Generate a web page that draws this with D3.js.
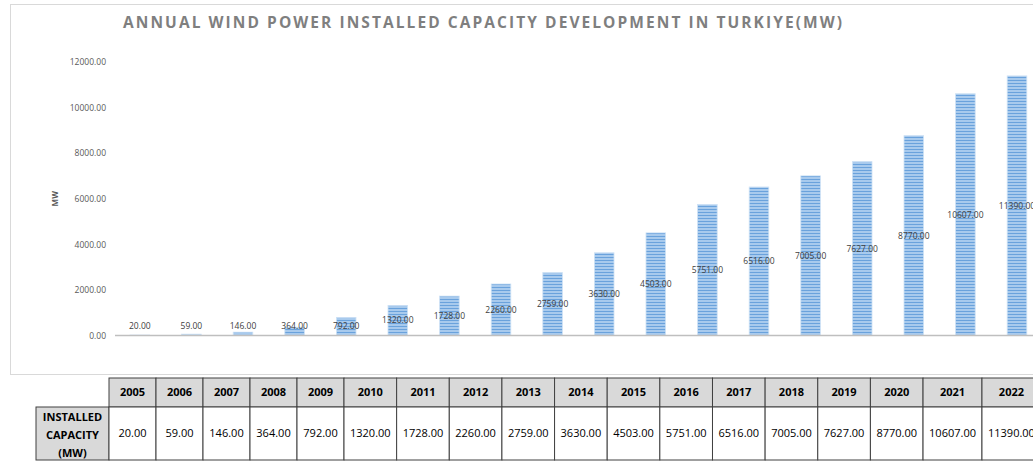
<!DOCTYPE html>
<html><head><meta charset="utf-8">
<script src="https://cdn.jsdelivr.net/npm/d3@7"></script>
<style>
html,body{margin:0;padding:0;background:#fff;}
svg{display:block;}
</style></head>
<body>
<svg id="c" width="1033" height="462"></svg>
<script>
const title = "ANNUAL WIND POWER INSTALLED CAPACITY DEVELOPMENT IN TURKIYE(MW)";
const yAxisTitle = "MW";
const years = ["2005","2006","2007","2008","2009","2010","2011","2012","2013","2014","2015","2016","2017","2018","2019","2020","2021","2022"];
const capacity = [20,59,146,364,792,1320,1728,2260,2759,3630,4503,5751,6516,7005,7627,8770,10607,11390];
const yTicks = [0,2000,4000,6000,8000,10000,12000];
const rowLabel = ["INSTALLED","CAPACITY","(MW)"];

(function(){
const svg = d3.select("#c");
const W = 1033, H = 462;
const FONT = "'Open Sans', 'DejaVu Sans', sans-serif";

// pattern for striped bars
const defs = svg.append("defs");
const pat = defs.append("pattern").attr("id","stripes").attr("patternUnits","userSpaceOnUse")
  .attr("width",4).attr("height",3);
pat.append("rect").attr("width",4).attr("height",3).attr("fill","#a8caed");
pat.append("rect").attr("y",2).attr("width",4).attr("height",1).attr("fill","#6aa2dc");

// chart area frame
svg.append("rect").attr("x",10.5).attr("y",4.5).attr("width",1040).attr("height",370)
  .attr("fill","#fff").attr("stroke","#d9d9d9").attr("stroke-width",1);

// title
svg.append("text").attr("x",123).attr("y",28)
  .attr("font-family",FONT).attr("font-weight","bold").attr("font-size",15.5)
  .attr("fill","#7f7f7f").attr("textLength",719).attr("lengthAdjust","spacing")
  .text(title);

// scales
const x = d3.scaleBand().domain(years).range([114, 114 + 18*51.6]).paddingInner(0.62).paddingOuter(0.31);
const y = d3.scaleLinear().domain([0,12000]).range([335.5, 62]);

// y axis tick labels
const yAxis = d3.axisLeft(y).tickValues(yTicks).tickFormat(d3.format(".2f")).tickSize(0).tickPadding(0);
const gy = svg.append("g").attr("transform","translate(106,0)").call(yAxis);
gy.select(".domain").remove();
gy.selectAll("text").attr("font-family",FONT).attr("font-size",8.5).attr("fill","#595959");

// y axis title
svg.append("text").attr("transform",`translate(58,${(y(0)+y(12000))/2}) rotate(-90)`)
  .attr("text-anchor","middle").attr("font-family",FONT).attr("font-weight","bold")
  .attr("font-size",8).attr("fill","#595959").text(yAxisTitle);

// bars
svg.append("g").selectAll("rect").data(years).join("rect")
  .attr("x",d=>x(d)).attr("width",x.bandwidth())
  .attr("y",(d,i)=>y(capacity[i])).attr("height",(d,i)=>y(0)-y(capacity[i]))
  .attr("fill","url(#stripes)").attr("stroke","#cfe2f5").attr("stroke-width",0.8);

// x axis line
svg.append("line").attr("x1",115).attr("x2",W).attr("y1",y(0)).attr("y2",y(0))
  .attr("stroke","#bfbfbf").attr("stroke-width",1.5);

// data labels
svg.append("g").selectAll("text").data(years).join("text")
  .attr("x",d=>x(d)+x.bandwidth()/2)
  .attr("y",(d,i)=>Math.min((y(capacity[i])+y(0))/2, y(0)-9.5))
  .attr("dy","0.35em").attr("text-anchor","middle")
  .attr("font-family",FONT).attr("font-size",8.5).attr("fill","#404040")
  .text((d,i)=>d3.format(".2f")(capacity[i]));

// ---- data table ----
const tFont = 11;
const tableX = 109, tTop = 378, hdrB = 407, bot = 460, labelX = 36;
const meas = svg.append("text").attr("font-family",FONT).attr("font-size",tFont).attr("visibility","hidden");
const widths = capacity.map(v=>{ meas.text(d3.format(".2f")(v)); return Math.max(47, meas.node().getComputedTextLength()+12); });
meas.remove();
const edges = [tableX];
widths.forEach(w=>edges.push(edges[edges.length-1]+w));

const tg = svg.append("g");
// label cell
tg.append("rect").attr("x",labelX).attr("y",hdrB).attr("width",tableX-labelX).attr("height",bot-hdrB)
  .attr("fill","#d9d9d9").attr("stroke","#404040").attr("stroke-width",1);
tg.selectAll("text.lbl").data(rowLabel).join("text").attr("class","lbl")
  .attr("x",(labelX+tableX)/2).attr("y",(d,i)=>hdrB+10+i*18).attr("dy","0.35em")
  .attr("text-anchor","middle").attr("font-family",FONT).attr("font-weight","bold")
  .attr("font-size",tFont).attr("fill","#000").text(d=>d);

// header cells
tg.selectAll("rect.h").data(years).join("rect").attr("class","h")
  .attr("x",(d,i)=>edges[i]).attr("y",tTop).attr("width",(d,i)=>widths[i]).attr("height",hdrB-tTop)
  .attr("fill","#d9d9d9").attr("stroke","#404040").attr("stroke-width",1);
tg.selectAll("text.h").data(years).join("text").attr("class","h")
  .attr("x",(d,i)=>edges[i]+widths[i]/2).attr("y",(tTop+hdrB)/2).attr("dy","0.35em")
  .attr("text-anchor","middle").attr("font-family",FONT).attr("font-weight","bold")
  .attr("font-size",tFont).attr("fill","#000").text(d=>d);

// value cells
tg.selectAll("rect.v").data(capacity).join("rect").attr("class","v")
  .attr("x",(d,i)=>edges[i]).attr("y",hdrB).attr("width",(d,i)=>widths[i]).attr("height",bot-hdrB)
  .attr("fill","#fff").attr("stroke","#404040").attr("stroke-width",1);
tg.selectAll("text.v").data(capacity).join("text").attr("class","v")
  .attr("x",(d,i)=>edges[i]+widths[i]/2).attr("y",(hdrB+bot)/2).attr("dy","0.35em")
  .attr("text-anchor","middle").attr("font-family",FONT)
  .attr("font-size",tFont).attr("fill","#000").text(d=>d3.format(".2f")(d));
})();
</script>
</body></html>
